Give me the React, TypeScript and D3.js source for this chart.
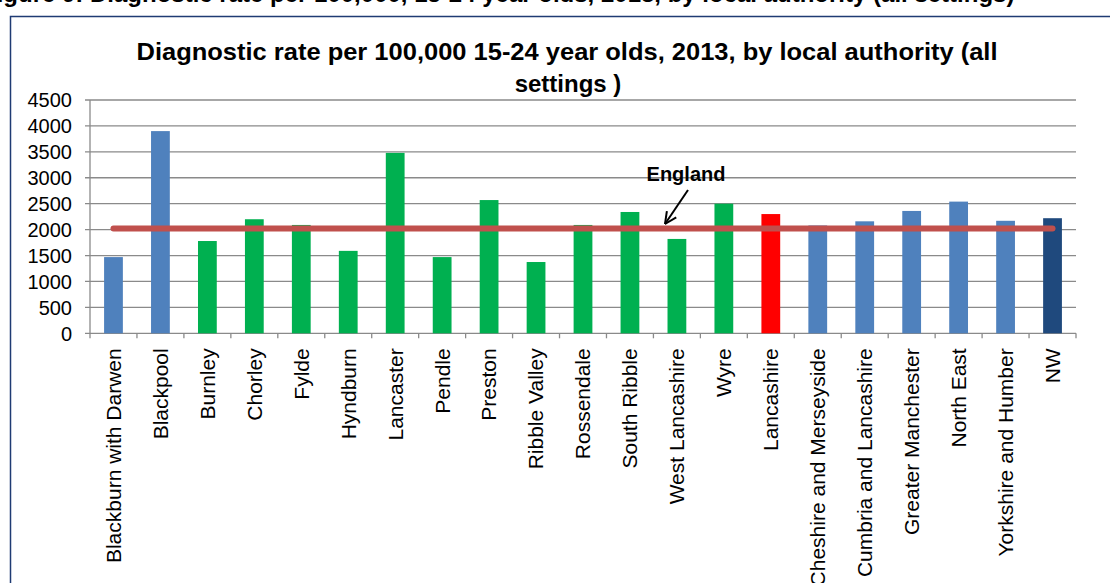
import React from "react";
import * as d3 from "d3";

const categories = [
  "Blackburn with Darwen", "Blackpool", "Burnley", "Chorley", "Fylde", "Hyndburn",
  "Lancaster", "Pendle", "Preston", "Ribble Valley", "Rossendale", "South Ribble",
  "West Lancashire", "Wyre", "Lancashire", "Cheshire and Merseyside",
  "Cumbria and Lancashire", "Greater Manchester", "North East", "Yorkshire and Humber", "NW",
];
const values = [1470, 3900, 1780, 2200, 2090, 1590, 3480, 1470, 2570, 1375, 2090, 2340, 1820, 2500, 2300, 2080, 2160, 2360, 2540, 2170, 2220];
const groups = ["blue", "blue", "green", "green", "green", "green", "green", "green", "green", "green", "green", "green", "green", "green", "red", "blue", "blue", "blue", "blue", "blue", "navy"];
const englandValue = 2020;
const yTicks = [0, 500, 1000, 1500, 2000, 2500, 3000, 3500, 4000, 4500];
const titleLines = ["Diagnostic rate per 100,000 15-24 year olds, 2013, by local authority (all", "settings )"];

const colorMap: Record<string, string> = {
  blue: "#4F81BD",
  green: "#00B050",
  red: "#FF0000",
  navy: "#1F497D",
};

export default function App() {
  const W = 1110, H = 583;
  const left = 90, right = 1076, top = 100, bottom = 333.3;
  const x = d3.scaleBand<string>().domain(categories).range([left, right]).paddingInner(0.6).paddingOuter(0.3);
  const y = d3.scaleLinear().domain([0, 4500]).range([bottom, top]);
  const step = x.step();
  const font = "Arial, 'Liberation Sans', sans-serif";
  const cx = (c: string) => (x(c) as number) + x.bandwidth() / 2;
  const ey = y(englandValue);
  const tipX = 665, tipY = 224, tailX = 688, tailY = 190;
  const ang = Math.atan2(tailY - tipY, tailX - tipX);
  const hl = 13, ha = 0.45;

  return (
    <svg width={W} height={H} style={{ position: "absolute", left: 0, top: 0, background: "#fff" }} fontFamily={font}>
      <rect x={0} y={0} width={W} height={H} fill="#fff" />
      <text x={-18} y={2} fontSize={24} fontWeight="bold" fill="#000">
        Figure 9: Diagnostic rate per 100,000, 15-24 year olds, 2013, by local authority (all settings)
      </text>
      <rect x={10.5} y={16.5} width={W + 20} height={H + 20} fill="none" stroke="#1F3B73" strokeWidth={1.5} />
      <text x={567} y={60} fontSize={24} fontWeight="bold" textAnchor="middle" textLength={861} lengthAdjust="spacingAndGlyphs">{titleLines[0]}</text>
      <text x={568} y={92} fontSize={24} fontWeight="bold" textAnchor="middle">{titleLines[1]}</text>
      {yTicks.map((t) => (
        <g key={t}>
          <line x1={left - 5} x2={right} y1={y(t)} y2={y(t)} stroke="#8a8a8a" strokeWidth={1.3} />
          <text x={72} y={y(t)} dy="0.36em" fontSize={20} textAnchor="end" fill="#000">{t}</text>
        </g>
      ))}
      <line x1={left} x2={left} y1={top} y2={bottom} stroke="#8a8a8a" strokeWidth={1.3} />
      {d3.range(categories.length + 1).map((i) => (
        <line key={i} x1={left + i * step} x2={left + i * step} y1={bottom} y2={bottom + 5} stroke="#8a8a8a" strokeWidth={1.3} />
      ))}
      {categories.map((c, i) => (
        <rect key={c} x={x(c)} y={y(values[i])} width={x.bandwidth()} height={bottom - y(values[i])} fill={colorMap[groups[i]]} />
      ))}
      <line x1={cx(categories[0])} x2={cx(categories[categories.length - 1])} y1={ey} y2={ey} stroke="#C0504D" strokeWidth={6} strokeLinecap="round" />
      {categories.map((c) => (
        <text key={c} transform={`translate(${cx(c)},${bottom + 15}) rotate(-90)`} dy="0.35em" fontSize={21} textAnchor="end" fill="#000">{c}</text>
      ))}
      <text x={686} y={181} fontSize={20} fontWeight="bold" textAnchor="middle">England</text>
      <line x1={tailX} y1={tailY} x2={tipX} y2={tipY} stroke="#000" strokeWidth={2} />
      <line x1={tipX} y1={tipY} x2={tipX + hl * Math.cos(ang + ha)} y2={tipY + hl * Math.sin(ang + ha)} stroke="#000" strokeWidth={2} />
      <line x1={tipX} y1={tipY} x2={tipX + hl * Math.cos(ang - ha)} y2={tipY + hl * Math.sin(ang - ha)} stroke="#000" strokeWidth={2} />
    </svg>
  );
}
